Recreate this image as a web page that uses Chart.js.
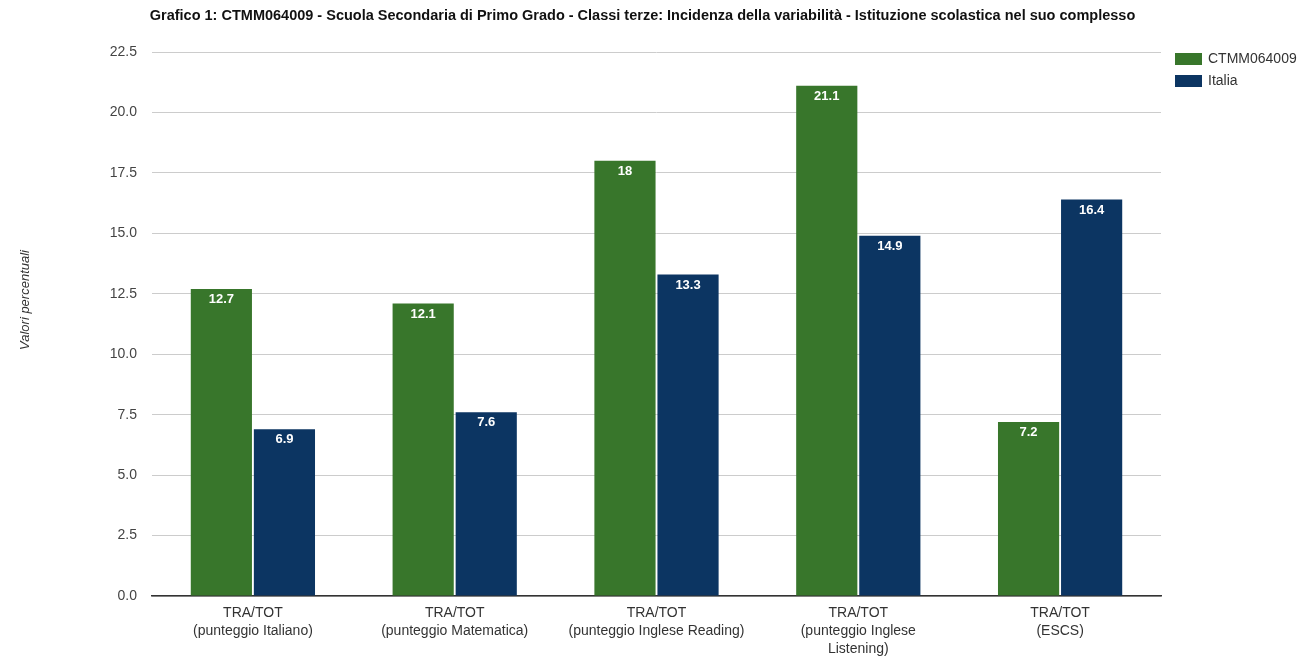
<!DOCTYPE html>
<html>
<head>
    <title>Grafico 1</title>
    <script src="https://cdn.jsdelivr.net/npm/chart.js"></script>
    <style>
        html, body { margin: 0; padding: 0; background: #fff; }
        #wrap { width: 1301px; height: 657px; position: relative; }
    </style>
</head>
<body>
    <div id="wrap"><canvas id="chart"></canvas></div>

    <script>
        // categorie e valori
        const categories = [
            ['TRA/TOT', '(punteggio Italiano)'],
            ['TRA/TOT', '(punteggio Matematica)'],
            ['TRA/TOT', '(punteggio Inglese Reading)'],
            ['TRA/TOT', '(punteggio Inglese', 'Listening)'],
            ['TRA/TOT', '(ESCS)']
        ];
        const scuolaValues = [12.7, 12.1, 18, 21.1, 7.2];
        const italiaValues = [6.9, 7.6, 13.3, 14.9, 16.4];
        const seriesNames = ['CTMM064009', 'Italia'];
        const yTicks = [0, 2.5, 5, 7.5, 10, 12.5, 15, 17.5, 20, 22.5];
        const chartTitle = 'Grafico 1: CTMM064009 - Scuola Secondaria di Primo Grado - Classi terze: Incidenza della variabilità - Istituzione scolastica nel suo complesso';

        const FONT = "'Liberation Sans', Arial, sans-serif";

        // etichette bianche dentro la cima delle barre
        const barLabels = {
            id: 'barLabels',
            afterDatasetsDraw(chart) {
                const ctx = chart.ctx;
                ctx.save();
                ctx.fillStyle = '#fff';
                ctx.font = 'bold 13px ' + FONT;
                ctx.textAlign = 'center';
                ctx.textBaseline = 'top';
                chart.data.datasets.forEach((ds, i) => {
                    chart.getDatasetMeta(i).data.forEach((bar, j) => {
                        ctx.fillText(String(ds.data[j]), bar.x, bar.y + 4);
                    });
                });
                ctx.restore();
            }
        };

        // titolo, legenda a destra e titolo asse y (disegnati a mano)
        const sideStuff = {
            id: 'sideStuff',
            afterDraw(chart) {
                const ctx = chart.ctx;
                const area = chart.chartArea;
                ctx.save();
                ctx.textBaseline = 'middle';
                ctx.textAlign = 'center';
                ctx.fillStyle = '#111';
                ctx.font = 'bold 14.5px ' + FONT;
                ctx.fillText(chartTitle, (area.left + area.right) / 2 - 14, 16);

                ctx.font = '14px ' + FONT;
                ctx.textAlign = 'left';
                chart.data.datasets.forEach((ds, i) => {
                    const y = area.top + 1 + i * 22;
                    ctx.fillStyle = ds.backgroundColor;
                    ctx.fillRect(area.right + 14, y, 27, 12);
                    ctx.fillStyle = '#333';
                    ctx.fillText(ds.label, area.right + 47, y + 6);
                });

                ctx.translate(25, (area.top + area.bottom) / 2 - 24);
                ctx.rotate(-Math.PI / 2);
                ctx.textAlign = 'center';
                ctx.font = 'italic 13px ' + FONT;
                ctx.fillStyle = '#333';
                ctx.fillText('Valori percentuali', 0, 0);
                ctx.restore();
            }
        };

        const ctx = document.getElementById('chart').getContext('2d');
        new Chart(ctx, {
            type: 'bar',
            data: {
                labels: categories,
                datasets: [
                    {
                        label: seriesNames[0],
                        data: scuolaValues,
                        backgroundColor: '#38762b',
                        categoryPercentage: 0.625,
                        barPercentage: 0.97
                    },
                    {
                        label: seriesNames[1],
                        data: italiaValues,
                        backgroundColor: '#0c3562',
                        categoryPercentage: 0.625,
                        barPercentage: 0.97
                    }
                ]
            },
            options: {
                responsive: true,
                maintainAspectRatio: false,
                animation: false,
                layout: { padding: { top: 52, right: 140, bottom: 0, left: 0 } },
                plugins: {
                    title: { display: false },
                    legend: { display: false },
                    tooltip: { enabled: false }
                },
                scales: {
                    x: {
                        grid: { display: false },
                        border: { color: '#333', width: 1.5 },
                        afterFit(scale) { scale.height = 61; },
                        ticks: {
                            color: '#333',
                            font: { family: FONT, size: 14, lineHeight: 1.3 },
                            maxRotation: 0,
                            autoSkip: false,
                            padding: 0
                        }
                    },
                    y: {
                        min: 0,
                        max: 22.5,
                        afterBuildTicks(scale) {
                            scale.ticks = yTicks.map(v => ({ value: v }));
                        },
                        afterFit(scale) { scale.width = 152; },
                        border: { display: false },
                        grid: { color: '#cccccc', drawTicks: false },
                        ticks: {
                            color: '#444',
                            font: { family: FONT, size: 14 },
                            padding: 15,
                            callback: v => v.toFixed(1)
                        }
                    }
                }
            },
            plugins: [barLabels, sideStuff]
        });
    </script>
</body>
</html>
